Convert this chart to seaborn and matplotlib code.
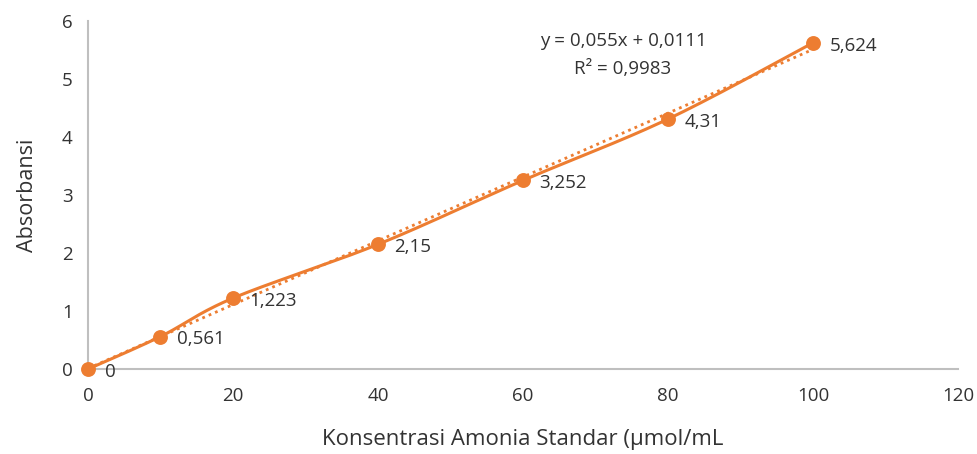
import numpy as np
import pandas as pd
import matplotlib
matplotlib.use("Agg")
import matplotlib.pyplot as plt
import seaborn as sns

# Data
konsentrasi = [0, 10, 20, 40, 60, 80, 100]
absorbansi = [0, 0.561, 1.223, 2.15, 3.252, 4.31, 5.624]
labels = ["0", "0,561", "1,223", "2,15", "3,252", "4,31", "5,624"]
trend_slope = 0.055
trend_intercept = 0.0111
eq_text = "y = 0,055x + 0,0111"
r2_text = "R² = 0,9983"
x_ticks = [0, 20, 40, 60, 80, 100, 120]
y_ticks = [0, 1, 2, 3, 4, 5, 6]

sns.set_theme(style="white")
plt.rcParams['font.family'] = ['Open Sans', 'DejaVu Sans']

ORANGE = "#ED7D31"
GRAY = "#BFBFBF"
TXT = "#333333"

def smooth(xs, ys, n=40):
    # Excel-style smoothing: cubic Bezier with Catmull-Rom control points
    xs = np.asarray(xs, float); ys = np.asarray(ys, float)
    px = np.concatenate([[xs[0]], xs, [xs[-1]]])
    py = np.concatenate([[ys[0]], ys, [ys[-1]]])
    ox, oy = [], []
    t = np.linspace(0, 1, n)
    for i in range(1, len(px) - 2):
        p0 = np.array([px[i], py[i]]); p3 = np.array([px[i + 1], py[i + 1]])
        c1 = p0 + (np.array([px[i + 1], py[i + 1]]) - np.array([px[i - 1], py[i - 1]])) / 6
        c2 = p3 - (np.array([px[i + 2], py[i + 2]]) - np.array([px[i], py[i]])) / 6
        b = ((1 - t) ** 3)[:, None] * p0 + (3 * (1 - t) ** 2 * t)[:, None] * c1 \
            + (3 * (1 - t) * t ** 2)[:, None] * c2 + (t ** 3)[:, None] * p3
        ox.extend(b[:, 0]); oy.extend(b[:, 1])
    return np.array(ox), np.array(oy)

fig = plt.figure(figsize=(9.77, 4.54), dpi=100)
ax = fig.add_axes([0.090, 0.187, 0.8905, 0.7667])

sx, sy = smooth(konsentrasi, absorbansi)
df_s = pd.DataFrame({"x": sx, "y": sy})
df = pd.DataFrame({"x": konsentrasi, "y": absorbansi})
tx = np.array([konsentrasi[0], konsentrasi[-1]], float)
df_t = pd.DataFrame({"x": tx, "y": trend_slope * tx + trend_intercept})

sns.lineplot(data=df_t, x="x", y="y", ax=ax, color=ORANGE, lw=2.0,
             linestyle=(0, (1, 1.5)), estimator=None, sort=False)
sns.lineplot(data=df_s, x="x", y="y", ax=ax, color=ORANGE, lw=2.2,
             estimator=None, sort=False)
sns.scatterplot(data=df, x="x", y="y", ax=ax, color=ORANGE, s=115,
                edgecolor=ORANGE, linewidth=0, zorder=5, clip_on=False)

for x, y, lab in zip(konsentrasi, absorbansi, labels):
    ax.annotate(lab, (x, y), xytext=(12, -2), textcoords="offset points",
                ha="left", va="center", fontsize=13.5, color=TXT)

ax.text(73.8, 5.66, eq_text, ha="center", va="center", fontsize=13.5, color=TXT)
ax.text(73.8, 5.17, r2_text, ha="center", va="center", fontsize=13.5, color=TXT)

ax.set_xlim(0, 120)
ax.set_ylim(0, 6)
ax.set_xticks(x_ticks)
ax.set_yticks(y_ticks)
ax.tick_params(axis="both", labelsize=13.5, labelcolor=TXT, colors=GRAY,
               length=5, width=1.2, direction="out")
ax.tick_params(axis="x", pad=8)
ax.tick_params(axis="y", pad=6)
for lab in ax.get_xticklabels() + ax.get_yticklabels():
    lab.set_color(TXT)
for s in ["top", "right"]:
    ax.spines[s].set_visible(False)
for s in ["left", "bottom"]:
    ax.spines[s].set_color(GRAY)
    ax.spines[s].set_linewidth(1.5)

ax.set_xlabel("Konsentrasi Amonia Standar (µmol/mL", fontsize=16, color=TXT, labelpad=17)
ax.set_ylabel("Absorbansi", fontsize=15.5, color=TXT, labelpad=17)

fig.savefig("out.png", dpi=100, facecolor="white")
